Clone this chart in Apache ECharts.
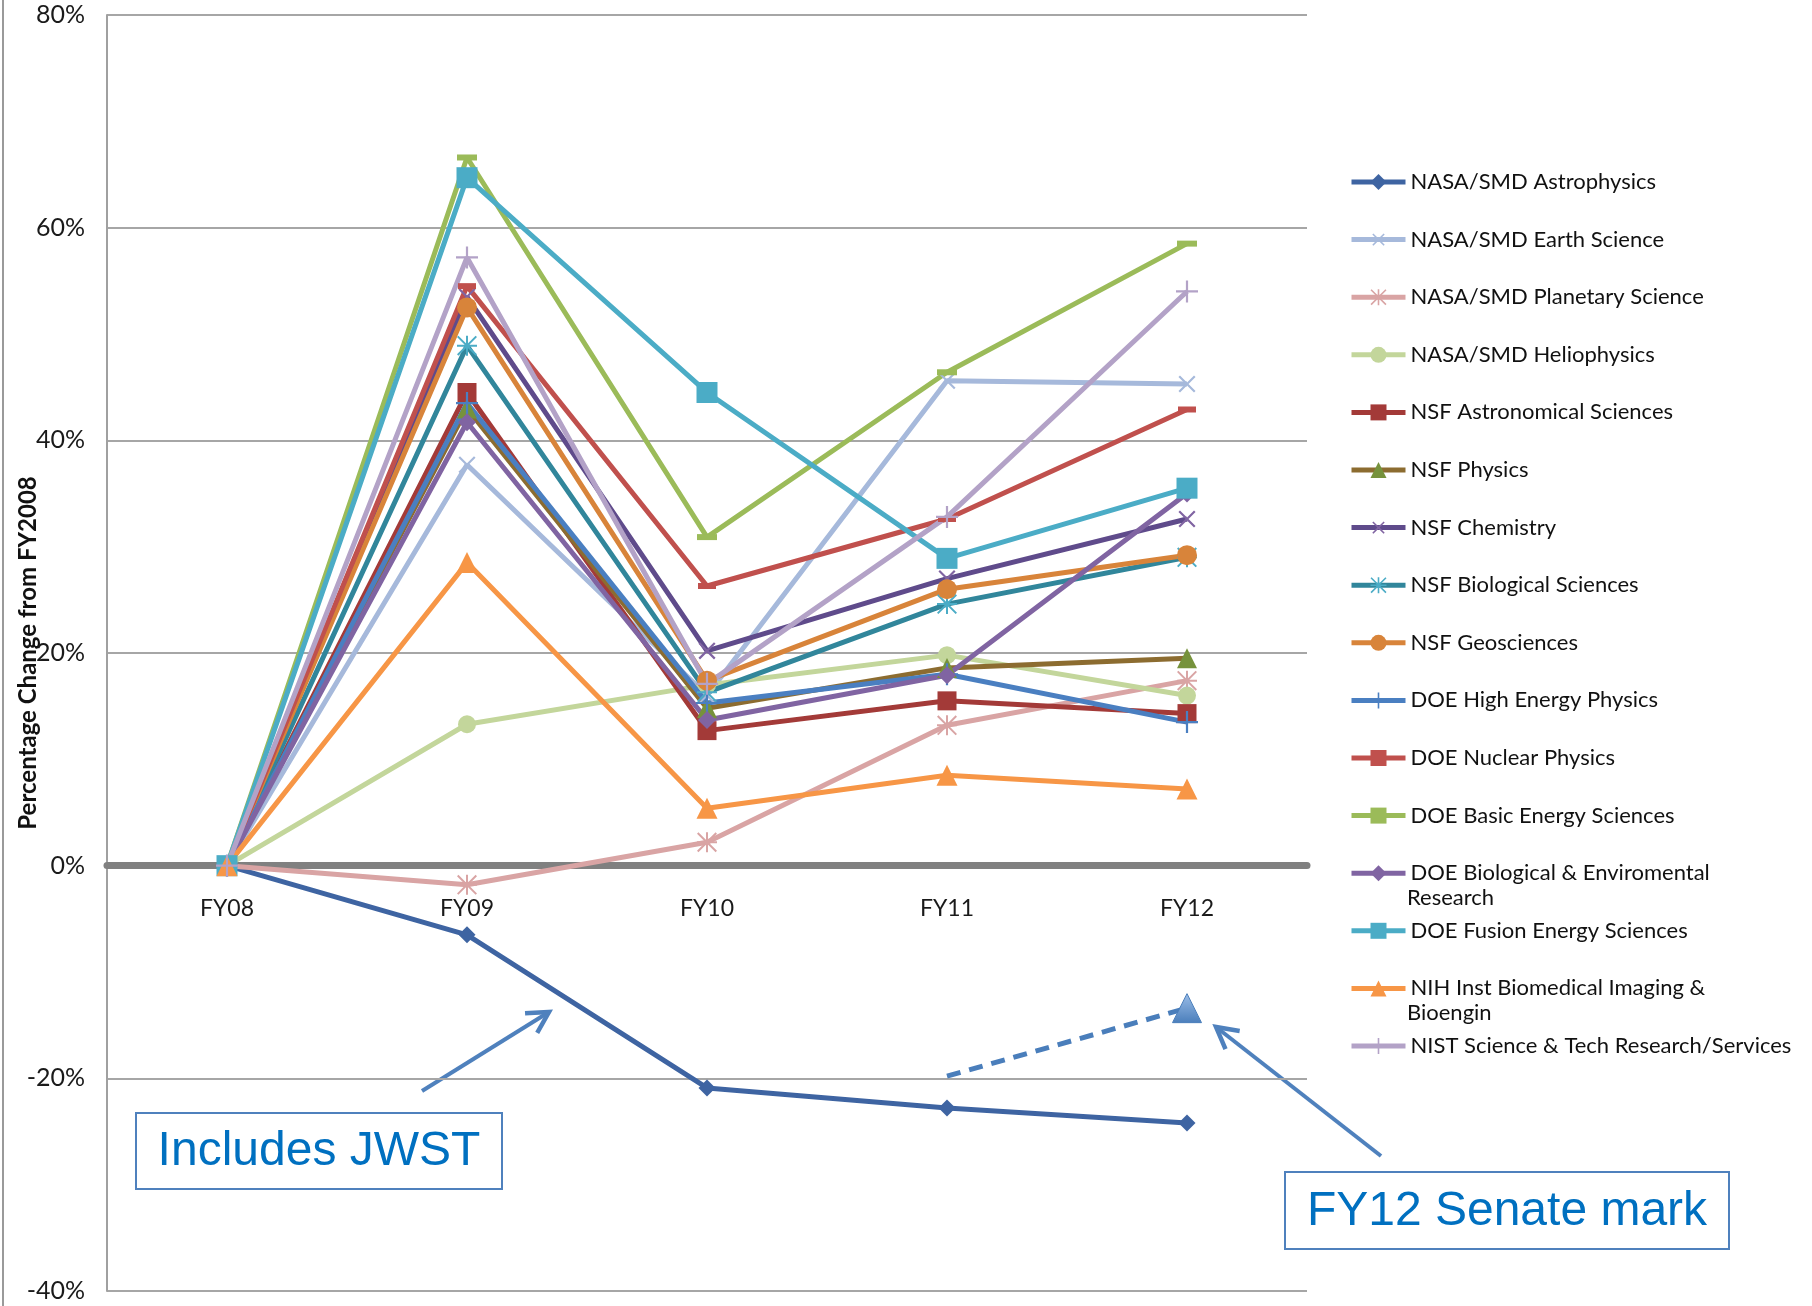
<!DOCTYPE html>
<html>
<head>
<meta charset="utf-8">
<title>Percentage Change from FY2008</title>
<script src="https://cdn.jsdelivr.net/npm/echarts@6/dist/echarts.min.js"></script>
<style>
html, body { margin: 0; padding: 0; background: #fff; }
#main { width: 1812px; height: 1306px; }
</style>
</head>
<body>
<div id="main"></div>
<script>
// fiscal years on the x axis
var years = ['FY08', 'FY09', 'FY10', 'FY11', 'FY12'];
// y axis range / step, percent
var yMin = -40, yMax = 80, yStep = 20;

// percentage change from FY2008, one array per program
var nasaAstrophysics = [0, -6.5, -20.9, -22.8, -24.2];
var nasaEarth = [0, 37.7, 16.0, 45.6, 45.3];
var nasaPlanetary = [0, -1.8, 2.2, 13.2, 17.4];
var nasaHelio = [0, 13.3, 17.0, 19.8, 16.0];
var nsfAstro = [0, 44.5, 12.7, 15.5, 14.3];
var nsfPhysics = [0, 43.0, 14.8, 18.6, 19.5];
var nsfChem = [0, 53.5, 20.2, 27.0, 32.6];
var nsfBio = [0, 48.9, 16.3, 24.6, 29.0];
var nsfGeo = [0, 52.5, 17.4, 26.0, 29.2];
var doeHep = [0, 43.5, 15.3, 18.0, 13.5];
var doeNuclear = [0, 54.5, 26.3, 32.6, 42.9];
var doeBes = [0, 66.6, 30.9, 46.4, 58.5];
var doeBer = [0, 41.7, 13.7, 17.9, 35.0];
var doeFusion = [0, 64.7, 44.5, 28.9, 35.5];
var nihBib = [0, 28.5, 5.4, 8.5, 7.2];
var nist = [0, 57.2, 17.1, 32.8, 54.0];
// FY12 senate mark for astrophysics, dashed from FY11
var senateMark = [null, null, null, -19.8, -13.4];

var programNames = [
    'NASA/SMD Astrophysics', 'NASA/SMD Earth Science', 'NASA/SMD Planetary Science',
    'NASA/SMD Heliophysics', 'NSF Astronomical Sciences', 'NSF Physics', 'NSF Chemistry',
    'NSF Biological Sciences', 'NSF Geosciences', 'DOE High Energy Physics',
    'DOE Nuclear Physics', 'DOE Basic Energy Sciences', 'DOE Biological & Enviromental Research',
    'DOE Fusion Energy Sciences', 'NIH Inst Biomedical Imaging & Bioengin',
    'NIST Science & Tech Research/Services'
];
var programValues = [
    nasaAstrophysics, nasaEarth, nasaPlanetary, nasaHelio, nsfAstro, nsfPhysics, nsfChem,
    nsfBio, nsfGeo, doeHep, doeNuclear, doeBes, doeBer, doeFusion, nihBib, nist
];

// marker shapes
var PLUS = 'path://M9,0H11V9H20V11H11V20H9V11H0V9H9Z';
var STAR = 'path://M9,0H11V9H20V11H11V20H9V11H0V9H9Z M0,1.4L1.4,0L20,18.6L18.6,20Z M18.6,0L20,1.4L1.4,20L0,18.6Z';

// look of each line (line colour, marker colour, marker)
var looks = [
    { line: '#3E64A2', mark: '#3E64A2', symbol: 'diamond', size: 17 },
    { line: '#A6B9DB', mark: '#A6B9DB', symbol: PLUS, size: 22, rotate: 45 },
    { line: '#D9A4A4', mark: '#D9A4A4', symbol: STAR, size: 20 },
    { line: '#C3D69B', mark: '#C3D69B', symbol: 'circle', size: 18 },
    { line: '#A33A38', mark: '#A33A38', symbol: 'rect', size: 19 },
    { line: '#8C6C30', mark: '#76923C', symbol: 'triangle', size: 20 },
    { line: '#5F4B8B', mark: '#8064A2', symbol: PLUS, size: 22, rotate: 45 },
    { line: '#31869B', mark: '#4BACC6', symbol: STAR, size: 20 },
    { line: '#D8843A', mark: '#D8843A', symbol: 'circle', size: 20 },
    { line: '#4A7FC1', mark: '#4A7FC1', symbol: PLUS, size: 22 },
    { line: '#C0504D', mark: '#C0504D', symbol: 'rect', size: [18, 6] },
    { line: '#9BBB59', mark: '#9BBB59', symbol: 'rect', size: [20, 6] },
    { line: '#8064A2', mark: '#8064A2', symbol: 'diamond', size: 18 },
    { line: '#4BACC6', mark: '#4BACC6', symbol: 'rect', size: 21 },
    { line: '#F79646', mark: '#F79646', symbol: 'triangle', size: 21 },
    { line: '#B3A2C7', mark: '#B3A2C7', symbol: PLUS, size: 22 }
];

var legendShort = {
    'DOE Biological & Enviromental Research': 'DOE Biological & Enviromental',
    'NIH Inst Biomedical Imaging & Bioengin': 'NIH Inst Biomedical Imaging &'
};
var legendLeft = 1344, legendTop = 165, legendStep = 57.6;

var series = programNames.map(function (name, i) {
    var lk = looks[i];
    return {
        name: name,
        type: 'line',
        data: programValues[i],
        symbol: lk.symbol,
        symbolSize: lk.size,
        symbolRotate: lk.rotate || 0,
        lineStyle: { color: lk.line, width: 5 },
        itemStyle: { color: lk.mark },
        emphasis: { disabled: true },
        animation: false
    };
});
series.push({
    name: 'FY12 Senate mark',
    type: 'line',
    data: senateMark.map(function (v, i) {
        return i === 4 ? v : { value: v, symbol: 'none' };
    }),
    symbol: 'triangle',
    symbolSize: 29,
    lineStyle: { color: '#4A7EBB', width: 5, type: [14, 9] },
    itemStyle: {
        color: new echarts.graphic.LinearGradient(0, 0, 0, 1, [
            { offset: 0, color: '#9CBEE8' },
            { offset: 1, color: '#4A7EBB' }
        ]),
        borderColor: '#4A7EBB',
        borderWidth: 1
    },
    emphasis: { disabled: true },
    animation: false
});

// arrow: line plus an open head at the end
function arrow(x1, y1, x2, y2) {
    var a = Math.atan2(y2 - y1, x2 - x1), len = 24, sp = 0.5;
    return {
        type: 'group',
        children: [
            { type: 'line', shape: { x1: x1, y1: y1, x2: x2, y2: y2 },
              style: { stroke: '#4F81BD', lineWidth: 4 } },
            { type: 'polyline', shape: { points: [
                [x2 - len * Math.cos(a - sp), y2 - len * Math.sin(a - sp)],
                [x2, y2],
                [x2 - len * Math.cos(a + sp), y2 - len * Math.sin(a + sp)]
              ] }, style: { stroke: '#4F81BD', lineWidth: 4.5, fill: null } }
        ]
    };
}

function textBox(x, y, w, h, txt) {
    return {
        type: 'group',
        children: [
            { type: 'rect', shape: { x: x, y: y, width: w, height: h },
              style: { fill: '#fff', stroke: '#4F81BD', lineWidth: 2 } },
            { type: 'text', x: x + w / 2, y: y + h / 2 + 1,
              style: { text: txt, fill: '#0070C0', font: '48px "Liberation Sans", Arial, sans-serif',
                       align: 'center', verticalAlign: 'middle' } }
        ]
    };
}

function legendSecondLine(idx, txt) {
    return {
        type: 'text', x: legendLeft + 63, y: legendTop + idx * legendStep + 12 + 30,
        style: { text: txt, font: '22px Lato', fill: '#111', verticalAlign: 'middle' }
    };
}

var myChart = echarts.init(document.getElementById('main'));
myChart.setOption({
    backgroundColor: '#fff',
    animation: false,
    grid: { left: 107, right: 505, top: 15, bottom: 15, outerBoundsMode: 'none', containLabel: false },
    legend: {
        data: programNames,
        orient: 'vertical',
        left: legendLeft,
        top: legendTop,
        itemWidth: 54,
        itemHeight: 20,
        itemGap: legendStep - 24,
        lineStyle: { width: 'inherit' },
        textStyle: { fontFamily: 'Lato', fontSize: 22, color: '#111', lineHeight: 24 },
        formatter: function (name) {
            return legendShort[name] || name;
        },
        selectedMode: false
    },
    xAxis: {
        type: 'category',
        data: years,
        boundaryGap: true,
        axisLine: { onZero: true, lineStyle: { color: '#808080', width: 7 } },
        axisTick: { show: false },
        axisLabel: { fontFamily: 'Lato', fontSize: 23, color: '#1a1a1a', margin: -394 },
        splitLine: { show: false }
    },
    yAxis: {
        type: 'value',
        min: yMin,
        max: yMax,
        interval: yStep,
        name: 'Percentage Change from FY2008',
        nameLocation: 'middle',
        nameGap: 67,
        nameMoveOverlap: false,
        nameTextStyle: { fontFamily: 'Lato', fontSize: 24, fontWeight: 'bold', color: '#111' },
        axisLine: { show: true, lineStyle: { color: '#A0A0A0', width: 2 } },
        axisTick: { show: false },
        axisLabel: {
            fontFamily: 'Lato', fontSize: 25, color: '#1a1a1a', margin: 22,
            formatter: function (v) { return v + '%'; }
        },
        splitLine: { lineStyle: { color: '#A6A6A6', width: 2 } }
    },
    graphic: [
        { type: 'line', shape: { x1: 3, y1: 0, x2: 3, y2: 1306 },
          style: { stroke: '#9A9A9A', lineWidth: 2 } },
        arrow(422, 1091, 549, 1012),
        arrow(1381, 1156, 1216, 1027),
        textBox(136, 1113, 366, 76, 'Includes JWST'),
        textBox(1285, 1172, 444, 77, 'FY12 Senate mark'),
        legendSecondLine(12, 'Research'),
        legendSecondLine(14, 'Bioengin')
    ],
    series: series
});
</script>
</body>
</html>
